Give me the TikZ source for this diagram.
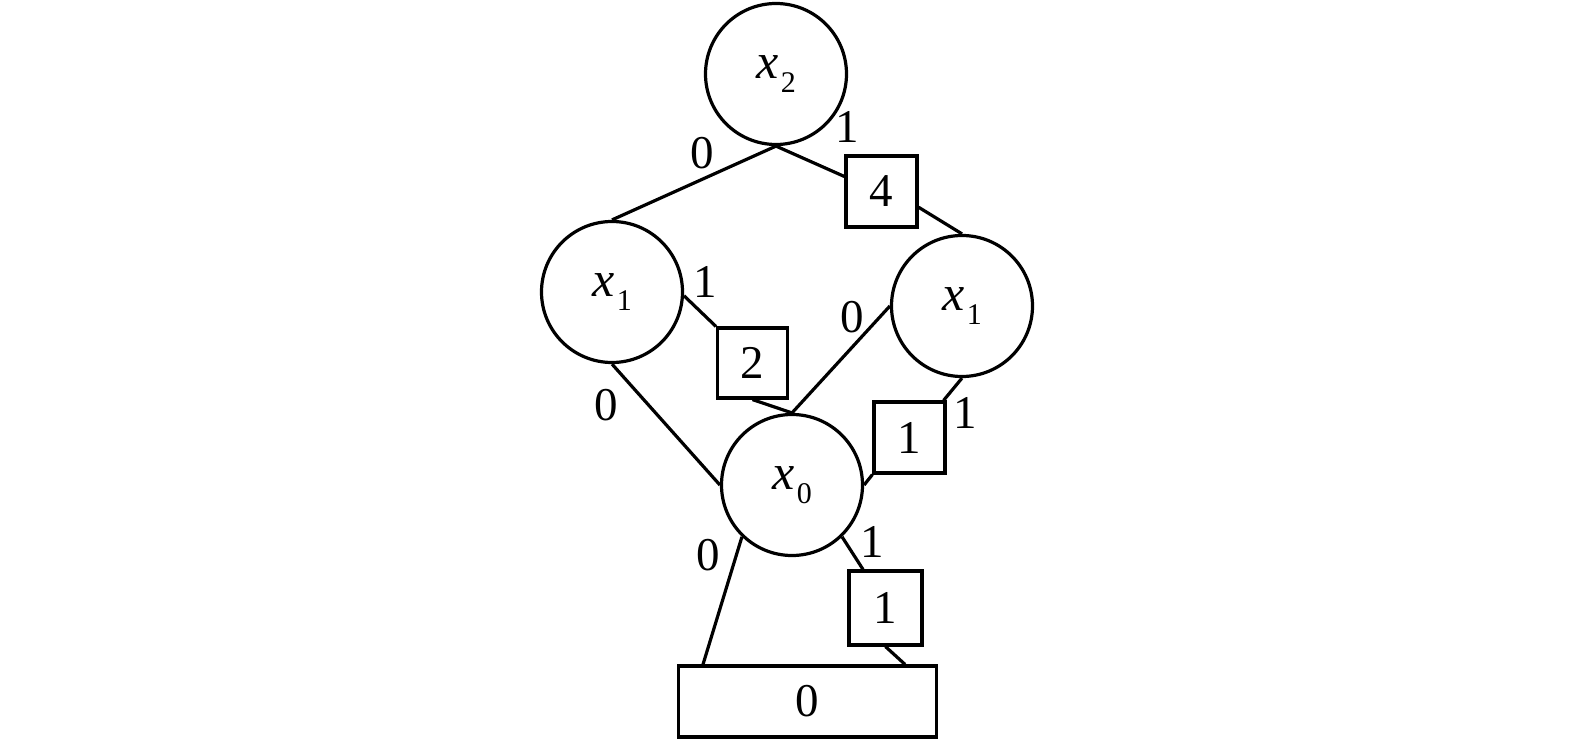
\documentclass[tikz,border=0pt]{standalone}
\usepackage{fontspec}
\setmainfont{Liberation Serif}
\usetikzlibrary{calc}
\newcommand\xsub[1]{{\fontsize{25}{28}\selectfont\textit{x}}\kern0.05em\raisebox{-0.3em}{\fontsize{15}{16}\selectfont #1}}
\begin{document}
\begin{tikzpicture}[x=0.5pt,y=-0.5pt,
  every node/.style={font=\fontsize{23.5}{28}\selectfont},
  var/.style={circle,draw,line width=1.6pt,minimum size=70.5pt,inner sep=0pt},
  term/.style={rectangle,draw,line width=1.6pt,minimum width=35.5pt,minimum height=35.5pt,inner sep=0pt},
  edge/.style={line width=1.6pt},
  lab/.style={inner sep=0pt}]
\useasboundingbox (0,0) rectangle (1575,742);
\node[var] (x2) at (776,74) {\xsub{2}};
\node[var] (x1L) at (612,292) {\xsub{1}};
\node[var] (x1R) at (962,306) {\xsub{1}};
\node[var] (x0) at (792,485) {\xsub{0}};
\node[term] (b4) at (881.5,191.5) {4};
\node[term,minimum width=35pt,minimum height=35pt] (b2) at (752.5,363) {2};
\node[term] (b1a) at (909.5,437.5) {1};
\node[term,minimum width=36.5pt,minimum height=37pt] (b1b) at (885.5,608) {1};
\node[term,minimum width=129pt] (b0) at (807.5,701.5) {0};
% edges
\draw[edge] (x2.south) -- (x1L.north);
\draw[edge] (x2.south) -- (b4.158);
\draw[edge] (b4.-23) -- (x1R.north);
\draw[edge] (x1L.-3) -- (b2.north west);
\draw[edge] (b2.south) -- (x0.north);
\draw[edge] (x1L.south) -- (x0.west);
\draw[edge] (x1R.west) -- (x0.north);
\draw[edge] (x1R.south) -- ($(b1a.north east)+(-3,0)$);
\draw[edge] (b1a.south west) -- (x0.east);
\draw[edge] (x0.-134) -- ($(b0.north)+(-104.5,0)$);
\draw[edge] (x0.-46) -- ($(b1b.north)+(-22.5,0)$);
\draw[edge] (b1b.south) -- ($(b0.north)+(97.5,0)$);
% labels
\node[lab] (l1) at (702,153) {0};
\node[lab] (l2) at (847,127) {1};
\node[lab] (l3) at (705,282) {1};
\node[lab] (l4) at (606,405) {0};
\node[lab] (l5) at (852,317) {0};
\node[lab] (l6) at (965,413) {1};
\node[lab] (l7) at (708,555) {0};
\node[lab] (l8) at (872,542) {1};
\end{tikzpicture}
\end{document}
